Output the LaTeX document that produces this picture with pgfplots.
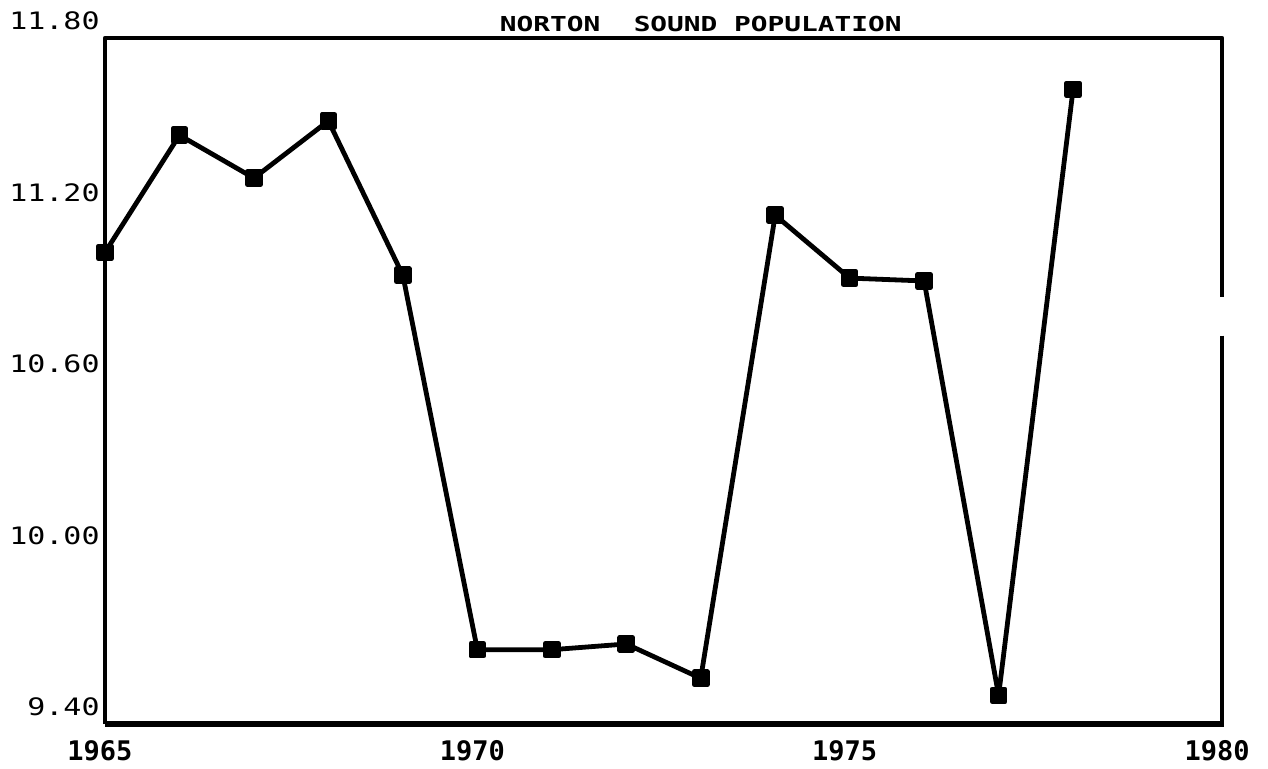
\documentclass[border=0pt]{standalone}
\usepackage{fontspec}
\usepackage{pgfplots}
\pgfplotsset{compat=1.18}
\setmainfont{DejaVu Sans Mono}
\newfontfamily\ylabfont[FakeStretch=1.25]{DejaVu Sans Mono}
\newfontfamily\xlabfont{DejaVu Sans Mono}
\newfontfamily\titlefont[FakeStretch=1.35]{DejaVu Sans Mono}

\pgfplotstableread{
year value
1965 11.05
1966 11.46
1967 11.31
1968 11.51
1969 10.97
1970 9.66
1971 9.66
1972 9.68
1973 9.56
1974 11.18
1975 10.96
1976 10.95
1977 9.50
1978 11.62
}\populationdata

\begin{document}
\begin{tikzpicture}
\begin{axis}[
  scale only axis,
  width=558.5pt, height=343pt,
  xmin=1965, xmax=1980, ymin=9.4, ymax=11.8,
  xtick={1965,1970,1975,1980},
  xticklabels={1965,1970,1975,1980},
  ytick={9.4,10.0,10.6,11.2,11.8},
  yticklabels={9.40,10.00,10.60,11.20,11.80},
  major tick length=0pt,
  axis line style={draw=none},
  clip=false,
  yticklabel style={font=\fontsize{12}{12}\selectfont\ylabfont, anchor=east, inner sep=0pt, xshift=-2.5pt, yshift=8.5pt},
  xticklabel style={font=\fontsize{13.5}{13.5}\selectfont\xlabfont\bfseries, anchor=north, inner sep=0pt, yshift=-8pt, xshift=-2.5pt},
]
\path (rel axis cs:0,0) ++(-52.5pt,-22pt) rectangle ++(634pt,384pt);
\draw[line width=2.2pt, line join=round] (rel axis cs:0,0) -- (rel axis cs:0,1) -- (rel axis cs:1,1) -- (rel axis cs:1,0.622);
\draw[line width=2pt] (rel axis cs:1,0.566) -- (rel axis cs:1,0.005);
\draw[line width=2.6pt] (rel axis cs:0,0) -- (rel axis cs:1.002,0);

\addplot[black, line width=2.4pt, line join=round, mark=square*, mark size=3.2pt, mark options={solid, fill=black}] table[x=year, y=value] {\populationdata};

\node[anchor=south, inner sep=0pt, font=\fontsize{10.3}{10.3}\selectfont\titlefont\bfseries] at (axis cs:1973,11.8) [yshift=3pt] {NORTON\ \ SOUND POPULATION};
\end{axis}
\end{tikzpicture}
\end{document}
